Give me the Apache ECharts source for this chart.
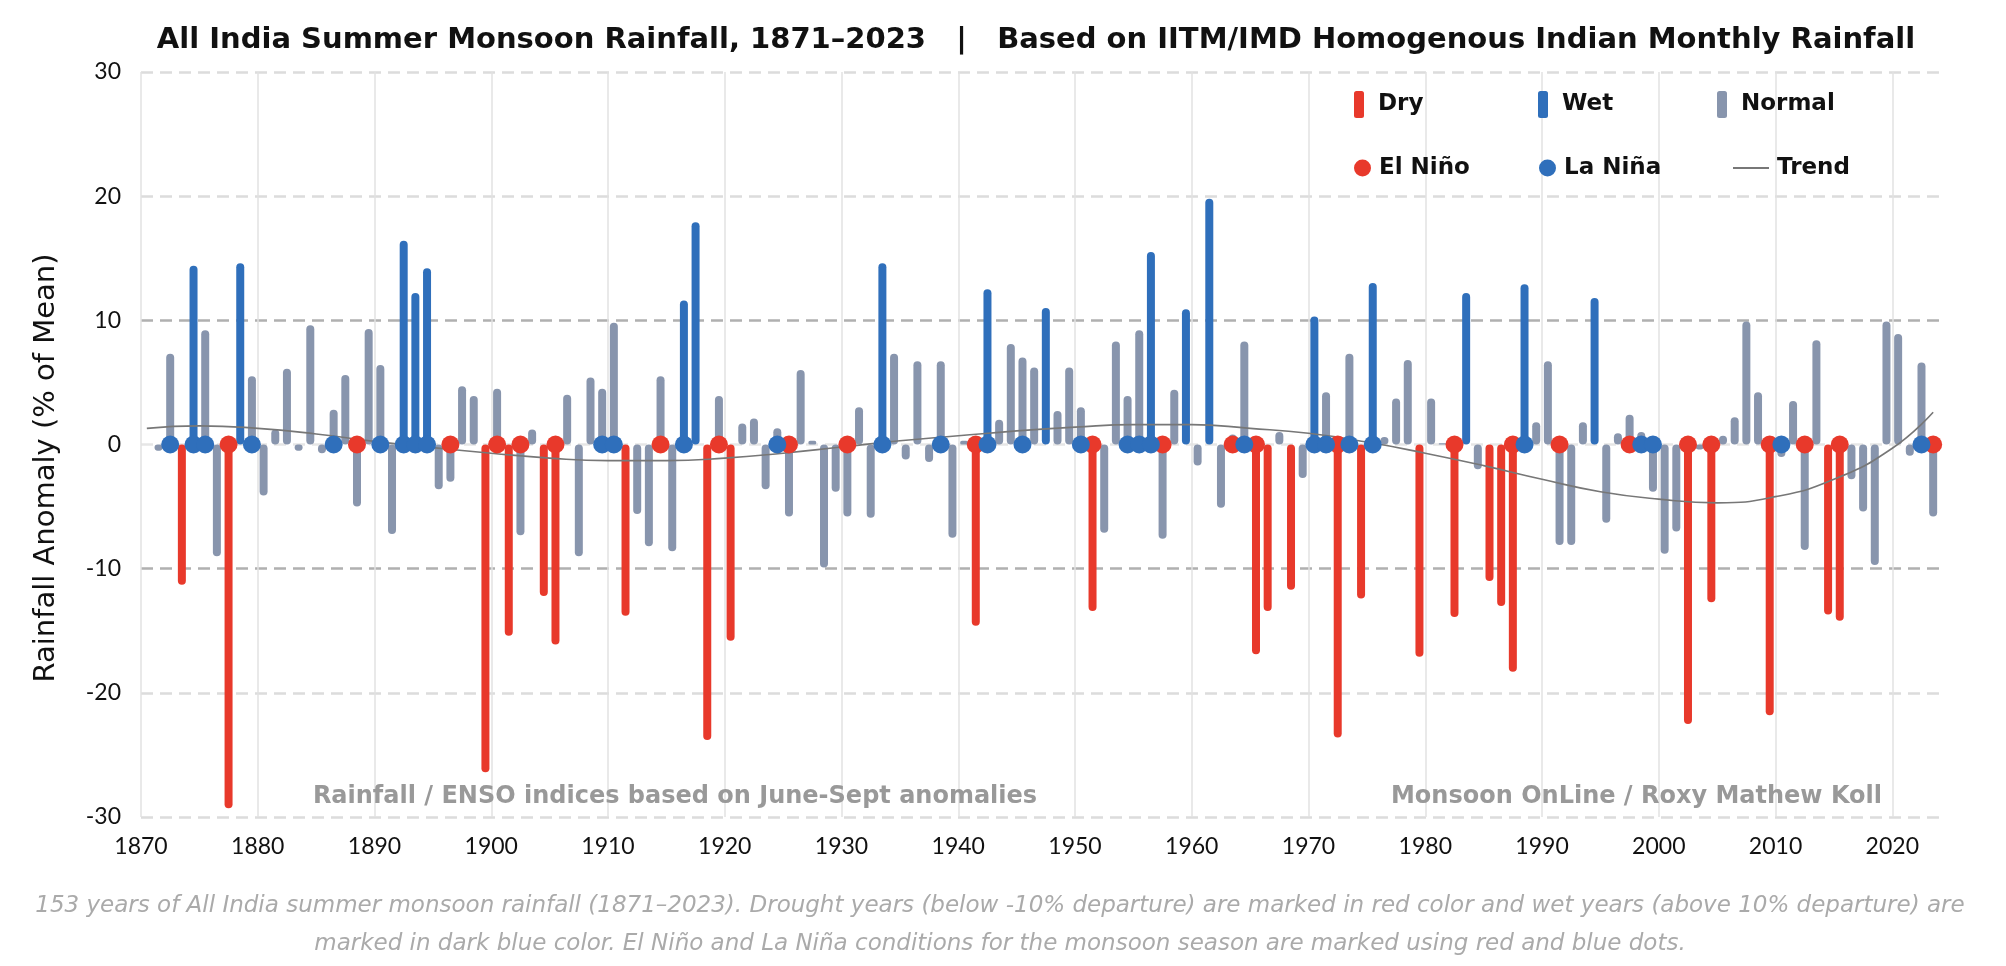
<!DOCTYPE html>
<html><head><meta charset="utf-8">
<script src="https://cdn.jsdelivr.net/npm/echarts@6/dist/echarts.min.js"></script>
<style>html,body{margin:0;padding:0;background:#fff}#c{width:2006px;height:966px}</style>
</head><body><div id="c"></div>
<script>
// ---- data ----
const firstYear = 1871;
const anomalies = [
 -0.5, 7.3, -11.3, 14.4, 9.2, -9.0, -29.3, 14.6, 5.5, -4.1,      // 1871-1880
 1.2, 6.1, -0.5, 9.6, -0.7, 2.8, 5.6, -5.0, 9.3, 6.4,             // 1881-1890
 -7.2, 16.4, 12.2, 14.2, -3.6, -3.0, 4.7, 3.9, -26.4, 4.5,        // 1891-1900
 -15.4, -7.3, 1.2, -12.2, -16.1, 4.0, -9.0, 5.4, 4.5, 9.8,        // 1901-1910
 -13.8, -5.6, -8.2, 5.5, -8.6, 11.6, 17.9, -23.8, 3.9, -15.8,     // 1911-1920
 1.7, 2.1, -3.6, 1.3, -5.8, 6.0, 0.3, -9.9, -3.8, -5.8,           // 1921-1930
 3.0, -5.9, 14.6, 7.3, -1.2, 6.7, -1.4, 6.7, -7.5, 0.3,           // 1931-1940
 -14.6, 12.5, 2.0, 8.1, 7.0, 6.2, 11.0, 2.7, 6.2, 3.0,            // 1941-1950
 -13.4, -7.1, 8.3, 3.9, 9.2, 15.5, -7.6, 4.4, 10.9, -1.7,         // 1951-1960
 19.8, -5.1, 0.8, 8.3, -16.9, -13.4, 1.0, -11.7, -2.7, 10.3,      // 1961-1970
 4.2, -23.6, 7.3, -12.4, 13.0, 0.6, 3.7, 6.8, -17.1, 3.7,         // 1971-1980
 0.1, -13.9, 12.2, -2.0, -11.0, -13.0, -18.3, 12.9, 1.8, 6.7,     // 1981-1990
 -8.1, -8.1, 1.8, 11.8, -6.3, 0.9, 2.4, 1.0, -3.8, -8.8,          // 1991-2000
 -7.0, -22.5, -0.4, -12.7, 0.7, 2.2, 9.9, 4.2, -21.8, -1.0,       // 2001-2010
 3.5, -8.5, 8.4, -13.7, -14.2, -2.8, -5.4, -9.7, 9.9, 8.9,        // 2011-2020
 -0.9, 6.6, -5.8                                                  // 2021-2023
];
const elNinoYears = [1877,1888,1896,1900,1902,1905,1914,1919,1925,1930,1941,1951,1957,1963,1965,1972,1982,1987,1991,1997,2002,2004,2009,2012,2015,2023];
const laNinaYears = [1872,1874,1875,1879,1886,1890,1892,1893,1894,1909,1910,1916,1924,1933,1938,1942,1945,1950,1954,1955,1956,1964,1970,1971,1973,1975,1988,1998,1999,2010,2022];
const trendX = [1870.5,1875,1880,1885,1890,1895,1900,1905,1910,1915,1920,1925,1930,1935,1940,1945,1950,1955,1960,1965,1970,1975,1980,1985,1990,1995,2000,2005,2010,2015,2020,2023.5];
const trendY = [1.3,1.5,1.3,0.85,0.25,-0.25,-0.7,-1.1,-1.3,-1.3,-1.1,-0.7,-0.2,0.3,0.7,1.1,1.4,1.6,1.6,1.3,0.9,0.2,-0.7,-1.7,-2.8,-3.8,-4.4,-4.7,-4.2,-2.8,-0.3,2.6];
const yTicks = [-30, -20, -10, 0, 10, 20, 30];
const xTickStart = 1870, xTickEnd = 2024;

// ---- build ----
const RED = '#E8392B', BLUE = '#2F6FBB', GRAY = '#8895AD';
const FONT = 'Lato, "Noto Sans", sans-serif';
const WIDE = '"DejaVu Sans", sans-serif';
const dry = [], wet = [], normal = [];
anomalies.forEach((v, i) => {
  const p = [firstYear + i + 0.5, v];
  if (v < -10) dry.push(p); else if (v > 10) wet.push(p); else normal.push(p);
});
const barBase = { type: 'bar', barWidth: 8, barGap: '-100%', z: 2 };
function lg(name, icon, left, top, w, h, pad) {
  return { selectedMode: false, orient: 'horizontal', padding: 0,
    data: [{ name: name, icon: icon }], left: left, top: top, itemWidth: w, itemHeight: h,
    textStyle: { fontSize: 23, fontWeight: 'bold', color: '#111', fontFamily: WIDE, lineHeight: 26, padding: [0, 0, 0, pad] } };
}

const chart = echarts.init(document.getElementById('c'), null, { renderer: 'canvas' });
chart.setOption({
  animation: false,
  backgroundColor: '#fff',
  grid: { left: 141, right: 67, top: 72, bottom: 149, containLabel: false },
  xAxis: {
    type: 'value', min: xTickStart, max: xTickEnd, interval: 10,
    axisLine: { show: false }, axisTick: { show: false },
    axisLabel: { fontSize: 23, color: '#111', margin: 18, fontFamily: FONT,
      formatter: v => (v % 10 === 0 ? String(v) : ''), showMaxLabel: false },
    splitLine: { show: true, showMaxLine: false, lineStyle: { color: '#e2e2e2', width: 1.5 } }
  },
  yAxis: {
    type: 'value', min: yTicks[0], max: yTicks[yTicks.length - 1], interval: 10,
    axisLine: { show: false }, axisTick: { show: false },
    axisLabel: { fontSize: 23, color: '#111', margin: 20, fontFamily: FONT },
    splitLine: { show: true, lineStyle: { type: [12, 7], width: 2.5,
      color: ['#dcdcdc', '#dcdcdc', '#b0b0b0', '#e6e6e6', '#b0b0b0', '#dcdcdc', '#dcdcdc'] } }
  },
  legend: [
    lg('Dry', 'roundRect', 1354, 91, 10, 27, 9),
    lg('Wet', 'roundRect', 1538, 91, 10, 27, 9),
    lg('Normal', 'roundRect', 1717, 91, 10, 27, 9),
    lg('El Niño', 'circle', 1354, 155, 17, 17, 3),
    lg('La Niña', 'circle', 1539, 155, 17, 17, 3),
    lg('Trend', 'rect', 1733, 155, 36, 2, 3)
  ],
  graphic: [
    { type: 'text', x: 1036, y: 40, style: { text: 'All India Summer Monsoon Rainfall, 1871–2023   |   Based on IITM/IMD Homogenous Indian Monthly Rainfall',
      font: 'bold 29px ' + WIDE, fill: '#111', align: 'center', verticalAlign: 'middle', textAlign: 'center', textVerticalAlign: 'middle' } },
    { type: 'text', x: 46, y: 468, rotation: Math.PI / 2, style: { text: 'Rainfall Anomaly (% of Mean)',
      font: '29px ' + WIDE, fill: '#111', align: 'center', verticalAlign: 'middle', textAlign: 'center', textVerticalAlign: 'middle' } },
    { type: 'text', x: 675, y: 797, z: 10, style: { text: 'Rainfall / ENSO indices based on June-Sept anomalies',
      font: 'bold 24px ' + WIDE, fill: '#999', align: 'center', verticalAlign: 'middle', textAlign: 'center', textVerticalAlign: 'middle' } },
    { type: 'text', x: 1882, y: 797, z: 10, style: { text: 'Monsoon OnLine / Roxy Mathew Koll',
      font: 'bold 24px ' + WIDE, fill: '#999', align: 'right', verticalAlign: 'middle', textAlign: 'right', textVerticalAlign: 'middle' } },
    { type: 'text', x: 1000, y: 906, style: { text: '153 years of All India summer monsoon rainfall (1871–2023). Drought years (below -10% departure) are marked in red color and wet years (above 10% departure) are',
      font: 'italic 23px ' + WIDE, fill: '#aaa', align: 'center', verticalAlign: 'middle', textAlign: 'center', textVerticalAlign: 'middle' } },
    { type: 'text', x: 1000, y: 944, style: { text: 'marked in dark blue color. El Niño and La Niña conditions for the monsoon season are marked using red and blue dots.',
      font: 'italic 23px ' + WIDE, fill: '#aaa', align: 'center', verticalAlign: 'middle', textAlign: 'center', textVerticalAlign: 'middle' } }
  ],
  series: [
    Object.assign({}, barBase, { name: 'Dry', data: dry, itemStyle: { color: RED, borderRadius: 4 } }),
    Object.assign({}, barBase, { name: 'Wet', data: wet, itemStyle: { color: BLUE, borderRadius: 4 } }),
    Object.assign({}, barBase, { name: 'Normal', data: normal, itemStyle: { color: GRAY, borderRadius: 4 } }),
    { type: 'line', name: 'Trend', data: trendX.map((x, i) => [x, trendY[i]]), smooth: 0.5, symbol: 'none', showSymbol: false,
      lineStyle: { color: '#777', width: 1.6 }, itemStyle: { color: '#777' }, z: 3 },
    { type: 'scatter', name: 'El Niño', data: elNinoYears.map(y => [y + 0.5, 0]), symbol: 'circle', symbolSize: 18,
      itemStyle: { color: RED, opacity: 1 }, z: 4 },
    { type: 'scatter', name: 'La Niña', data: laNinaYears.map(y => [y + 0.5, 0]), symbol: 'circle', symbolSize: 18,
      itemStyle: { color: BLUE, opacity: 1 }, z: 5 }
  ]
});
</script></body></html>
